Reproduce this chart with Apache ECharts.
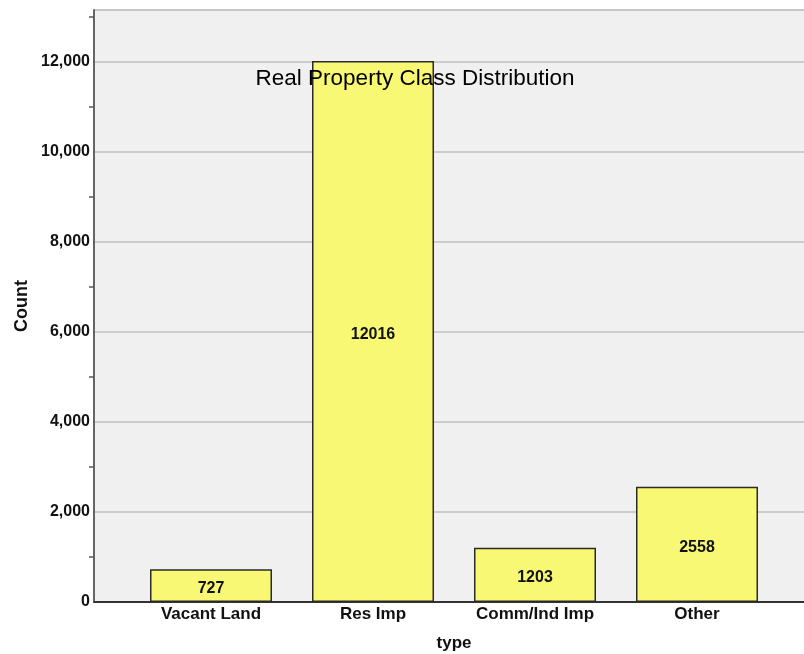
<!DOCTYPE html>
<html>
<head>
<meta charset="utf-8">
<script src="https://cdn.jsdelivr.net/npm/echarts@6/dist/echarts.min.js"></script>
<style>
  html, body { margin: 0; padding: 0; background: #ffffff; }
  #chart { width: 804px; height: 654px; }
</style>
</head>
<body>
<div id="chart"></div>
<script>
// Property class counts
const categories = ['Vacant Land', 'Res Imp', 'Comm/Ind Imp', 'Other'];
const counts = [727, 12016, 1203, 2558];
const yMin = 0;
const yMax = 13150;
const tickMax = 13000;
const majorStep = 2000;
const minorStep = 1000;

const FONT = 'Arial, "Liberation Sans", sans-serif';

// plot frame in pixels
const plotTop = 10, plotBottom = 52, plotLeft = 94;
const plotHeight = 654 - plotTop - plotBottom;
// tick grid shares the same scale but stops at the last whole thousand
const tickTop = plotTop + plotHeight * (yMax - tickMax) / (yMax - yMin);

const chart = echarts.init(document.getElementById('chart'), null, { renderer: 'canvas' });

const option = {
  backgroundColor: '#ffffff',
  animation: false,
  title: {
    text: 'Real Property Class Distribution',
    left: 410,
    top: 62,
    textAlign: 'center',
    textStyle: { fontFamily: FONT, fontSize: 22.5, fontWeight: 'normal', color: '#000' },
    z: 10
  },
  grid: [
    // frame: gray plot area, axes and gridlines
    { left: plotLeft, right: -11, top: plotTop, bottom: plotBottom, show: true, outerBoundsMode: 'none',
      backgroundColor: '#f0f0f0', borderColor: '#b4b4b4', borderWidth: 1 },
    // bars
    { left: 130, right: 26, top: plotTop, bottom: plotBottom, outerBoundsMode: 'none' },
    // tick marks every 1000
    { left: plotLeft, right: -11, top: tickTop, bottom: plotBottom, outerBoundsMode: 'none' }
  ],
  xAxis: [
    { type: 'value', gridIndex: 0, min: 0, max: 1,
      axisLine: { show: true, onZero: false, lineStyle: { color: '#333', width: 2 } },
      axisTick: { show: false }, axisLabel: { show: false }, splitLine: { show: false } },
    { type: 'category', gridIndex: 1, data: categories,
      axisLine: { show: false }, axisTick: { show: false },
      axisLabel: { fontFamily: FONT, fontSize: 17, fontWeight: 'bold', color: '#111', margin: 4 },
      name: 'type', nameLocation: 'middle', nameGap: 33,
      nameTextStyle: { fontFamily: FONT, fontSize: 17, fontWeight: 'bold', color: '#111' } },
    { type: 'value', gridIndex: 2, min: 0, max: 1, show: false }
  ],
  yAxis: [
    // labels and gridlines every 2000
    { type: 'value', gridIndex: 0, min: yMin, max: yMax, interval: majorStep, position: 'left',
      axisLine: { show: true, lineStyle: { color: '#666', width: 2 } },
      axisTick: { show: false },
      axisLabel: {
        fontFamily: FONT, fontSize: 16, fontWeight: 'bold', color: '#111', margin: 1,
        padding: [2, 3, 2, 0], backgroundColor: '#ffffff',
        formatter: function (v) {
          if (v % majorStep !== 0) return '';
          return v.toLocaleString('en-US');
        }
      },
      splitLine: { show: true, lineStyle: { color: '#c0c0c0', width: 1.5 } },
      name: 'Count', nameLocation: 'middle', nameGap: 63, nameRotate: 90, nameMoveOverlap: false,
      nameTextStyle: { fontFamily: FONT, fontSize: 18, fontWeight: 'bold', color: '#111' } },
    { type: 'value', gridIndex: 1, min: yMin, max: yMax, show: false },
    { type: 'value', gridIndex: 2, min: yMin, max: tickMax, interval: minorStep,
      axisLine: { show: false },
      axisTick: { show: true, length: 5, lineStyle: { color: '#555', width: 1.5 } },
      axisLabel: { show: false }, splitLine: { show: false } }
  ],
  series: [{
    type: 'bar',
    xAxisIndex: 1,
    yAxisIndex: 1,
    data: counts,
    barWidth: 122,
    itemStyle: { color: '#f8f874', borderColor: '#2a2a2a', borderWidth: 1.5 },
    label: {
      show: true, position: 'inside', offset: [0, 3],
      fontFamily: FONT, fontSize: 16, fontWeight: 'bold', color: '#111'
    }
  }]
};

chart.setOption(option);
</script>
</body>
</html>
